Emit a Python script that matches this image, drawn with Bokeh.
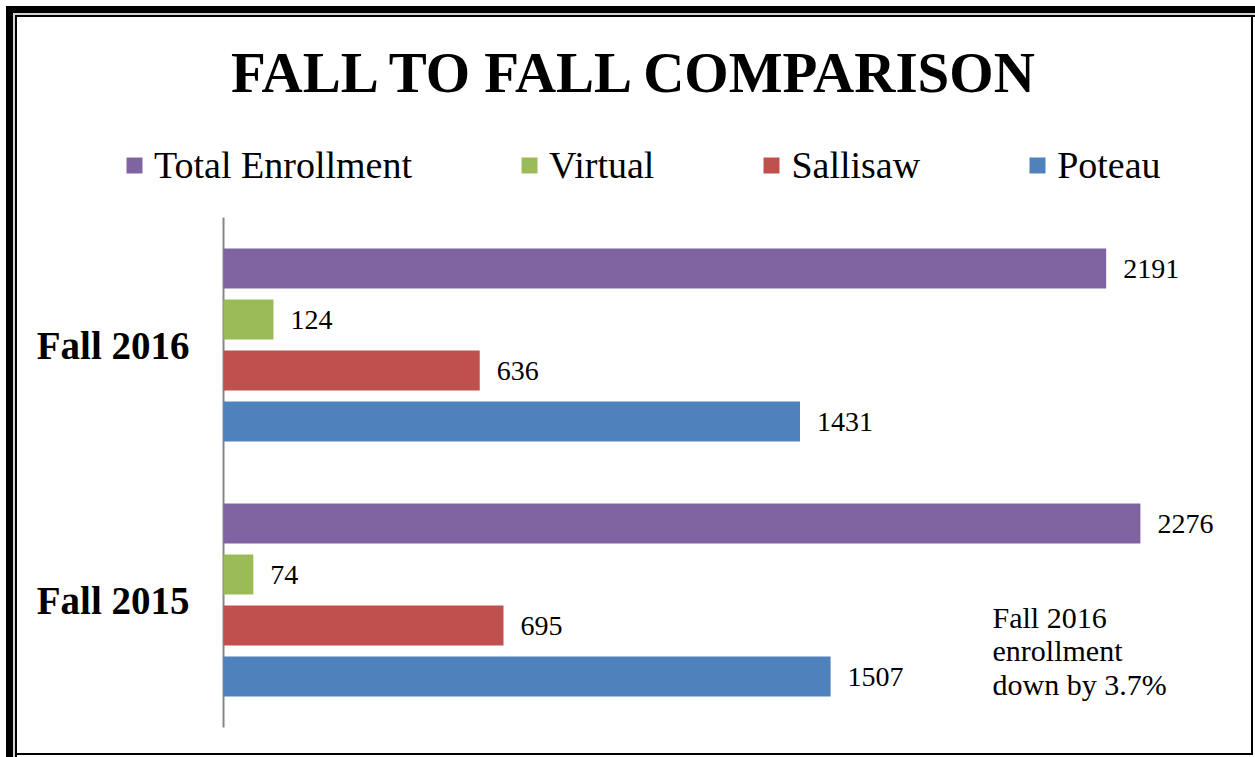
from bokeh.plotting import figure
from bokeh.models import ColumnDataSource, Legend, LegendItem, Label, Range1d
from bokeh.transform import dodge
from bokeh.core.properties import value
from bokeh.embed import file_html
from bokeh.resources import INLINE

# ---- data ----
years = ["Fall 2015", "Fall 2016"]
series = ["Total Enrollment", "Virtual", "Sallisaw", "Poteau"]
total_enrollment = [2276, 2191]
virtual = [74, 124]
sallisaw = [695, 636]
poteau = [1507, 1431]
colors = ["#8064A2", "#9BBB59", "#C0504D", "#4F81BD"]
offsets = [0.3, 0.1, -0.1, -0.3]
title_text = "FALL TO FALL COMPARISON"
note_lines = ["Fall 2016", "enrollment", "down by 3.7%"]

values = [total_enrollment, virtual, sallisaw, poteau]
ypos = [i + 0.5 for i in range(len(years))]   # category slot centres

W, H = 1255, 757
frame_styles = {
    "box-shadow": ("inset 6px 6px 0 0 white, inset 13px 13px 0 0 black, "
                   "inset 15px 15px 0 0 #d4d4d4, inset 17px 17px 0 0 black, "
                   "inset -2px -2px 0 0 white, inset -4px -4px 0 0 black")
}
p = figure(width=W, height=H, output_backend="svg", toolbar_location=None,
           x_range=Range1d(-553.6, 2561.7), y_range=Range1d(-0.1176, 2.851),
           x_axis_type=None, y_axis_type=None,
           min_border_left=0, min_border_right=0, min_border_top=0, min_border_bottom=0,
           styles=frame_styles)
p.outline_line_color = None
p.grid.visible = False
p.background_fill_alpha = 0
p.border_fill_alpha = 0

# category axis: line + labels
cat_src = ColumnDataSource(dict(y=ypos, name=years))
p.segment(x0=0, y0=0, x1=0, y1=len(years), line_color="#878787", line_width=2)
p.text(x=0, y="y", text="name", source=cat_src, x_offset=-34,
       text_align="right", text_baseline="middle",
       text_font=value("Liberation Serif"), text_font_style="bold",
       text_font_size="39px", text_color="black")

items = []
for name, vals, col, off in zip(series, values, colors, offsets):
    src = ColumnDataSource(dict(y=ypos, val=vals, lab=[str(v) for v in vals]))
    r = p.hbar(y=dodge("y", off), right="val", left=0,
               height=0.157, source=src, fill_color=col, line_color=None)
    p.text(x="val", y=dodge("y", off), text="lab", source=src,
           x_offset=17, text_baseline="middle", text_align="left",
           text_font=value("Liberation Serif"), text_font_size="28px", text_color="black")
    items.append(LegendItem(label=name, renderers=[r]))

legend = Legend(items=items, orientation="horizontal", location=(124, 570),
                glyph_width=20, glyph_height=20, label_standoff=10, spacing=107,
                label_text_font="Liberation Serif", label_text_font_size="38px",
                label_text_color="black", border_line_color=None,
                background_fill_alpha=0, padding=0, margin=0)
p.add_layout(legend, "center")

p.add_layout(Label(x=636, y=685, x_units="screen", y_units="screen", text=title_text,
                   text_align="center", text_baseline="alphabetic",
                   text_font="Liberation Serif", text_font_style="bold",
                   text_font_size="57px", text_color="black"))

for t, yy in zip(note_lines, [140, 107, 73]):
    p.add_layout(Label(x=992, y=yy, x_units="screen", y_units="screen", text=t,
                       text_align="left", text_baseline="alphabetic",
                       text_font="Liberation Serif", text_font_size="30px",
                       text_color="black"))

open("out.html", "w").write(file_html(p, INLINE))
